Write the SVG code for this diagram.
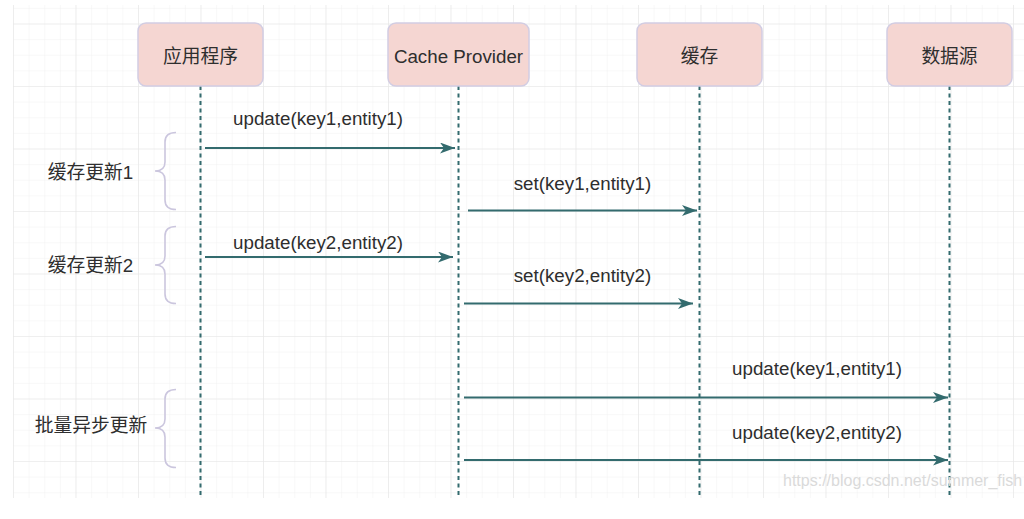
<svg xmlns="http://www.w3.org/2000/svg" width="1024" height="519" viewBox="0 0 1024 519">
  <style>
    .box { fill: #f5d6d2; stroke: #d2cde3; stroke-width: 1.5; }
    .hdr { font-family: "Liberation Sans", "Noto Sans CJK SC", sans-serif; font-size: 18.75px; fill: #2e2e2e; text-anchor: middle; }
    .lbl { font-family: "Liberation Sans", "Noto Sans CJK SC", sans-serif; font-size: 18.75px; fill: #2e2e2e; text-anchor: middle; }
    .life { stroke: #336b6e; stroke-width: 2; stroke-dasharray: 4 3.5; fill: none; }
    .msg { stroke: #336b6e; stroke-width: 2; fill: none; marker-end: url(#arr); }
    .brace { stroke: #cbc6de; stroke-width: 1.6; fill: none; }
    .wm { font-family: "Liberation Sans", sans-serif; font-size: 16px; fill: #dadada; }
  </style>
  <defs>
    <pattern id="minor" patternUnits="userSpaceOnUse" x="13" y="7.875" width="15.625" height="15.625">
      <path d="M0 0 H15.625 M0 0 V15.625" stroke="#f1f1f1" stroke-width="1" fill="none"/>
    </pattern>
    <pattern id="major" patternUnits="userSpaceOnUse" x="13" y="23.5" width="62.5" height="62.5">
      <path d="M0 0 H62.5 M0 0 V62.5" stroke="#e6e6e6" stroke-width="1.2" fill="none"/>
    </pattern>
    <marker id="arr" viewBox="0 0 15 11" refX="15" refY="5.5" markerWidth="15" markerHeight="11" markerUnits="userSpaceOnUse" orient="auto">
      <path d="M0 0 L15 5.5 L0 11 L4 5.5 Z" fill="#336b6e"/>
    </marker>
  </defs>
  <rect width="1024" height="519" fill="#ffffff"/>
  <g id="grid">
    <rect x="13" y="5" width="1011" height="493" fill="url(#minor)"/>
    <rect x="13" y="5" width="1011" height="493" fill="url(#major)"/>
  </g>

  <g id="lifelines">
    <line class="life" x1="200.5" y1="86" x2="200.5" y2="498"/>
    <line class="life" x1="458.5" y1="86" x2="458.5" y2="498"/>
    <line class="life" x1="699.5" y1="86" x2="699.5" y2="498"/>
    <line class="life" x1="949.5" y1="86" x2="949.5" y2="498"/>
  </g>

  <g id="node-app">
    <rect class="box" x="138" y="23" width="125" height="63" rx="8"/>
    <text class="hdr" x="200.5" y="62.5">应用程序</text>
  </g>
  <g id="node-cache-provider">
    <rect class="box" x="388" y="23" width="141" height="63" rx="8"/>
    <text class="hdr" x="458.5" y="62.5">Cache Provider</text>
  </g>
  <g id="node-cache">
    <rect class="box" x="637" y="23" width="125" height="63" rx="8"/>
    <text class="hdr" x="699.5" y="62.5">缓存</text>
  </g>
  <g id="node-datasource">
    <rect class="box" x="887" y="23" width="125" height="63" rx="8"/>
    <text class="hdr" x="949.5" y="62.5">数据源</text>
  </g>

  <g id="braces">
    <path class="brace" d="M176 132.5 Q165 132.5 165 142 V162 Q165 171 155 171 Q165 171 165 180 V200 Q165 209.5 176 209.5"/>
    <path class="brace" d="M176 226.5 Q165 226.5 165 236 V256 Q165 265 155 265 Q165 265 165 274 V294 Q165 303.5 176 303.5"/>
    <path class="brace" d="M176 389.5 Q165 389.5 165 399 V419 Q165 428 155 428 Q165 428 165 437 V458 Q165 467.5 176 467.5"/>
  </g>
  <g id="group-labels">
    <text class="lbl" x="90.5" y="178.5">缓存更新1</text>
    <text class="lbl" x="90.5" y="271.5">缓存更新2</text>
    <text class="lbl" x="91" y="431.5">批量异步更新</text>
  </g>

  <g id="connectors">
    <line class="msg" x1="205" y1="148" x2="455" y2="148"/>
    <line class="msg" x1="468" y1="210.5" x2="697" y2="210.5"/>
    <line class="msg" x1="205" y1="257" x2="453" y2="257"/>
    <line class="msg" x1="464" y1="303.5" x2="693" y2="303.5"/>
    <line class="msg" x1="464" y1="397.5" x2="948" y2="397.5"/>
    <line class="msg" x1="464" y1="460" x2="948" y2="460"/>
  </g>
  <g id="connector-labels">
    <text class="lbl" x="318" y="124.5">update(key1,entity1)</text>
    <text class="lbl" x="582.5" y="189.5">set(key1,entity1)</text>
    <text class="lbl" x="318" y="248.5">update(key2,entity2)</text>
    <text class="lbl" x="582.5" y="281.5">set(key2,entity2)</text>
    <text class="lbl" x="817" y="374.5">update(key1,entity1)</text>
    <text class="lbl" x="817" y="438.5">update(key2,entity2)</text>
  </g>

  <text class="wm" x="783" y="486">https://blog.csdn.net/summer_fish</text>
</svg>
